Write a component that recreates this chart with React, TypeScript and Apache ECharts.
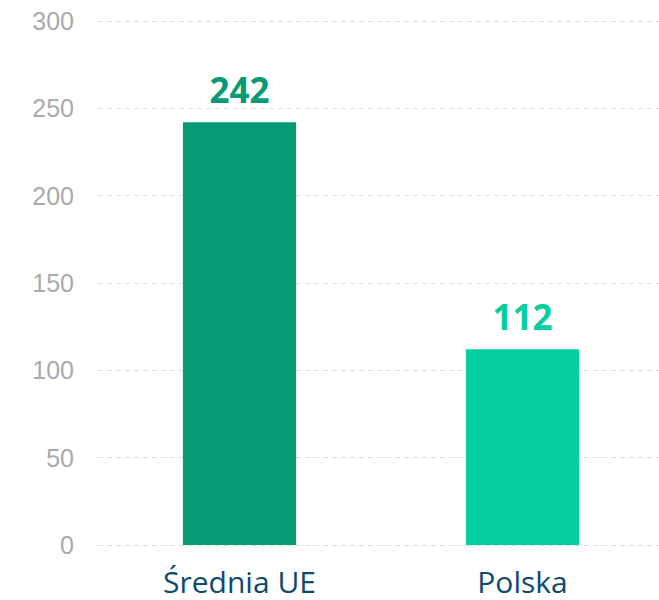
import React, { useEffect, useRef } from "react";
import * as echarts from "echarts";

const categories = ["Średnia UE", "Polska"];
const values = [242, 112];
const barColors = ["#069b74", "#05cfa0"];
const yMin = 0;
const yMax = 300;
const yInterval = 50;

export default function App() {
  const ref = useRef<HTMLDivElement>(null);
  useEffect(() => {
    document.body.style.margin = "0";
    const chart = echarts.init(ref.current!, null, { renderer: "svg" });
    chart.setOption({
      animation: false,
      grid: { left: 98, top: 21, right: 10, bottom: 55, containLabel: false },
      xAxis: {
        type: "category",
        data: categories,
        axisLine: { show: false },
        axisTick: { show: false },
        axisLabel: {
          color: "#0e4a6c",
          fontSize: 30,
          lineHeight: 30,
          fontFamily: "Open Sans",
          margin: 21,
        },
      },
      yAxis: {
        type: "value",
        min: yMin,
        max: yMax,
        interval: yInterval,
        axisLine: { show: false },
        axisTick: { show: false },
        axisLabel: {
          color: "#aaaaaa",
          fontSize: 25,
          fontFamily: "Liberation Sans",
          margin: 24,
        },
        splitLine: {
          lineStyle: { color: "#dddddd", width: 1, type: [5, 4] },
        },
      },
      series: [
        {
          type: "bar",
          barWidth: "40%",
          data: values.map((v, i) => ({
            value: v,
            itemStyle: { color: barColors[i] },
            label: { color: barColors[i] },
          })),
          label: {
            show: true,
            position: "top",
            distance: 15,
            fontSize: 35,
            fontWeight: "bold",
            fontFamily: "Open Sans",
          },
        },
      ],
    });
    return () => chart.dispose();
  }, []);
  return (
    <div style={{ width: 659, height: 600, overflow: "hidden" }}>
      <div ref={ref} style={{ width: 674, height: 600 }} />
    </div>
  );
}
